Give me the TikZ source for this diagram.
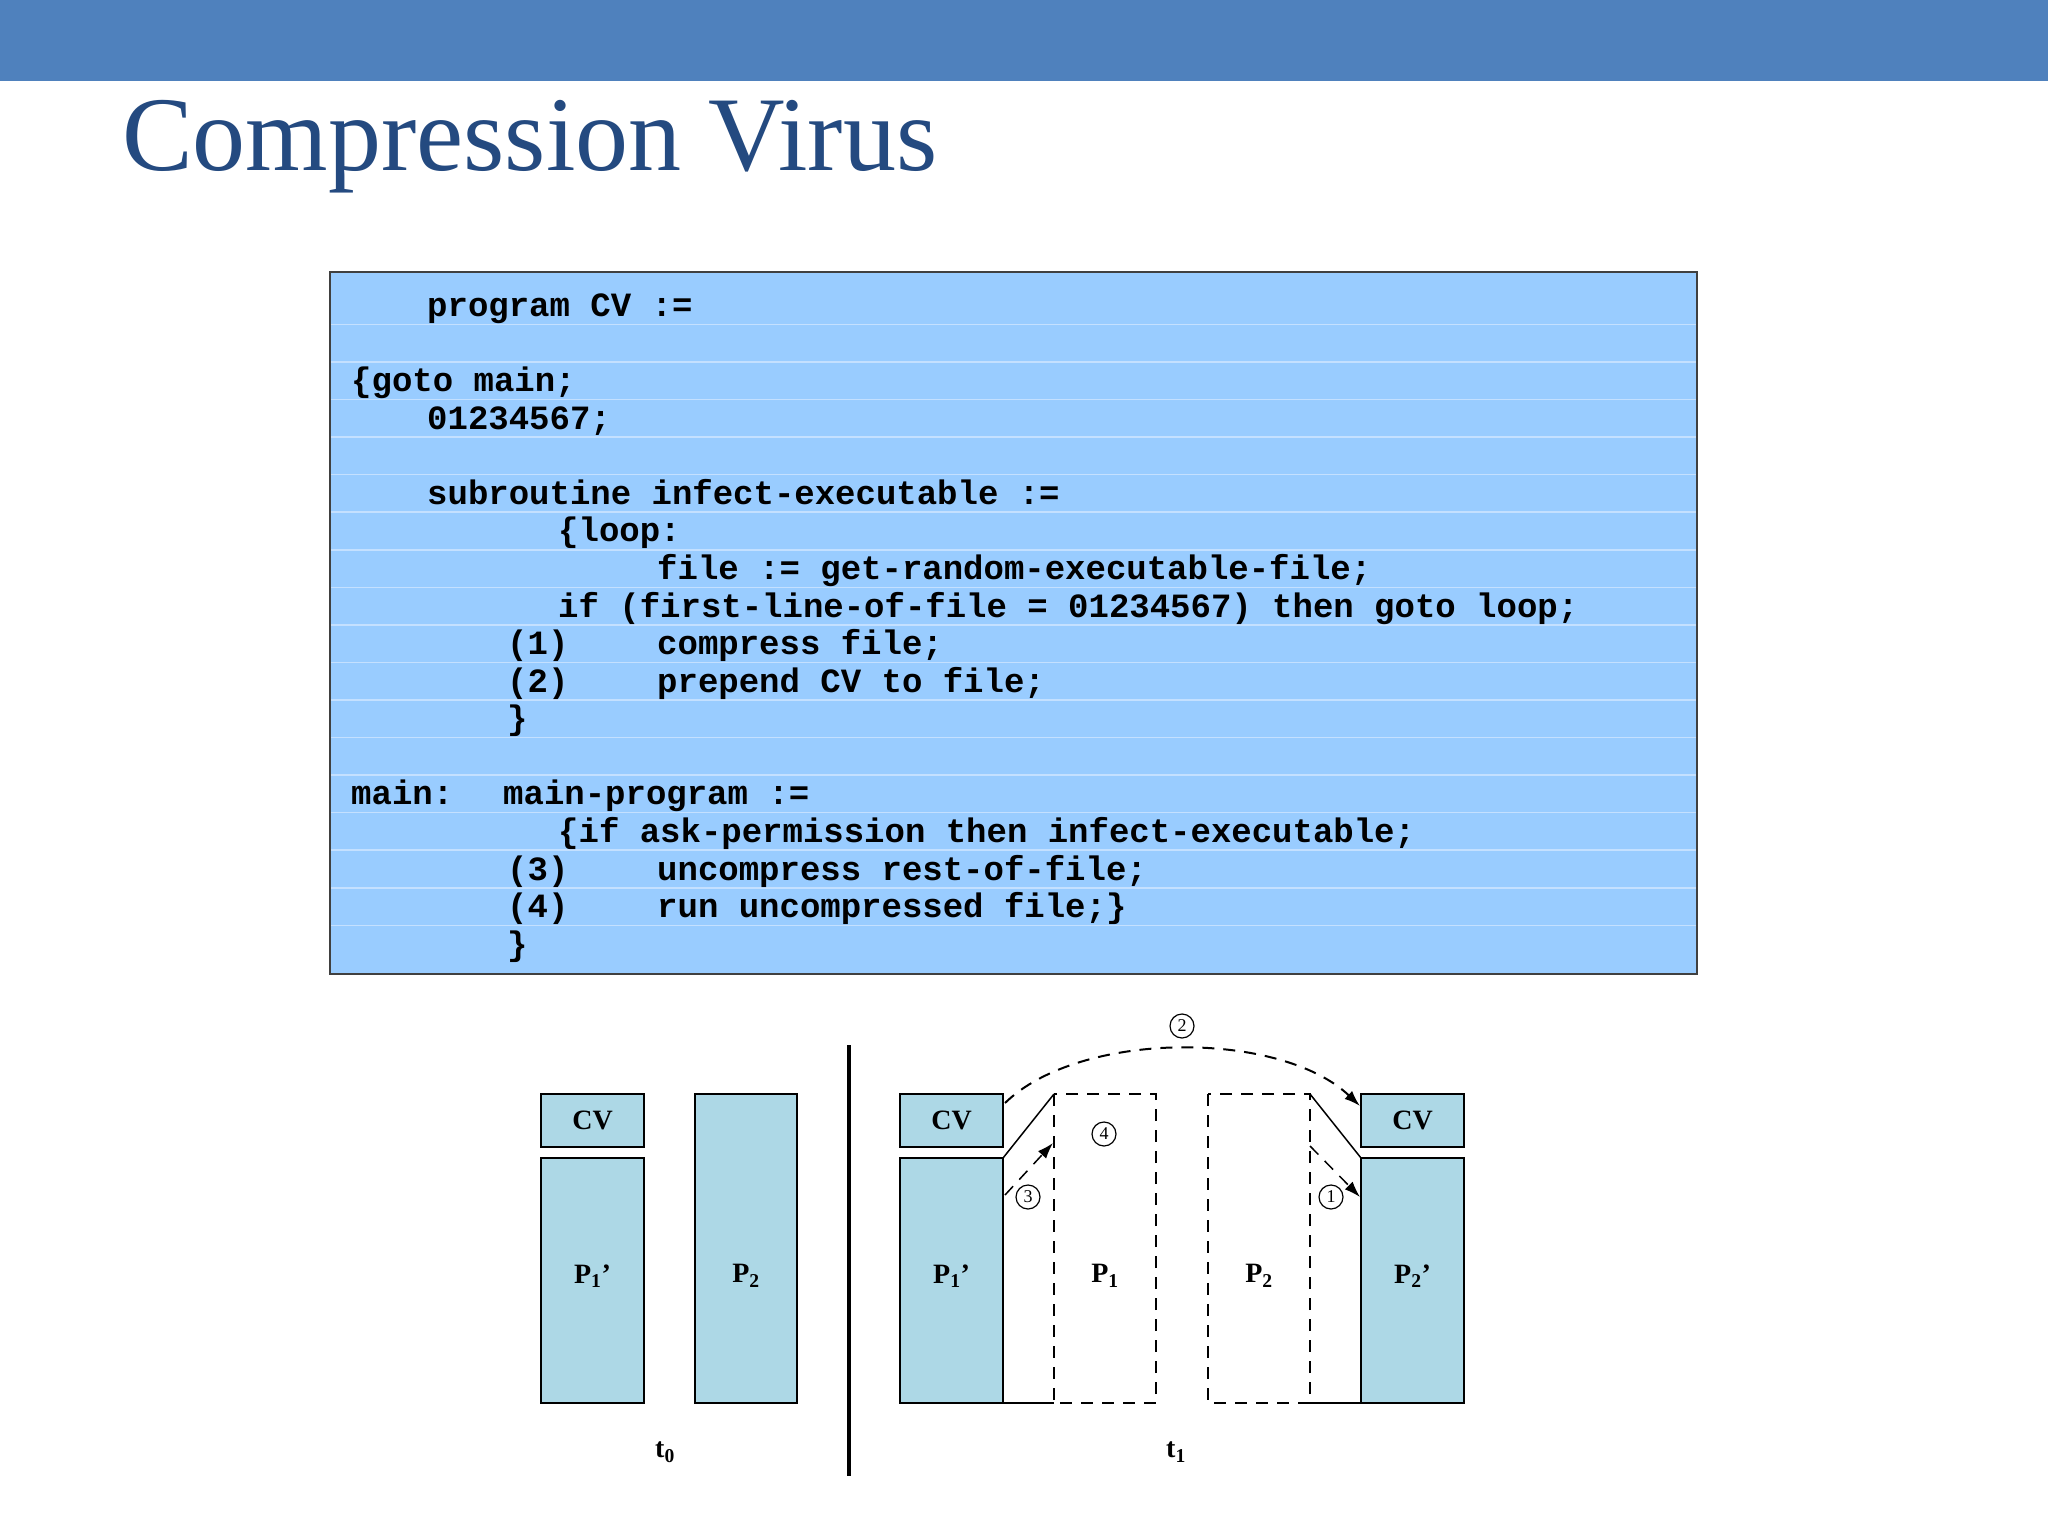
\documentclass[tikz,border=0pt]{standalone}
\usepackage{fontspec}
\setmainfont{Liberation Serif}
\setmonofont{Liberation Mono}
\usetikzlibrary{arrows.meta}
\definecolor{topbar}{HTML}{4F81BD}
\definecolor{titleblue}{HTML}{244A80}
\definecolor{codebg}{HTML}{99CCFF}
\definecolor{codesep}{HTML}{C4E0FF}
\definecolor{boxfill}{HTML}{ADD8E6}
\begin{document}
\begin{tikzpicture}[x=1pt,y=-1pt,
  code/.style={anchor=base west,inner sep=0pt,font=\fontsize{34}{34}\ttfamily\bfseries},
  blk/.style={draw=black,line width=2.5pt,fill=boxfill},
  dbox/.style={draw=black,line width=2.5pt,dash pattern=on 12pt off 9pt},
  lab/.style={font=\fontsize{28}{28}\selectfont\bfseries},
  circ/.style={draw=black,circle,line width=1.2pt,minimum size=24pt,inner sep=0pt,font=\fontsize{18}{18}\selectfont},
  darr/.style={line width=2pt,dash pattern=on 12pt off 9pt,-{Latex[length=16pt,width=11pt]}}]
\useasboundingbox (0,0) rectangle (2048,1536);
\fill[white] (0,0) rectangle (2048,1536);
\fill[topbar] (0,0) rectangle (2048,81);
\node[anchor=base west,inner sep=0pt,text=titleblue,font=\fontsize{106}{106}\selectfont] (title) at (122,170) {Compression Virus};
% code box
\fill[codebg] (330,272) rectangle (1697,974);
\foreach \k in {0,...,16} {
  \draw[codesep,line width=1.5pt] (331,{324.4+\k*37.56}) -- (1696,{324.4+\k*37.56});
}
\draw[black!75,line width=2.5pt] (330,272) rectangle (1697,974);
\def\ry#1{\fpeval{305.6+#1*37.56+11}}
\node[code] (c0) at (427,\ry{0}) {program CV :=};
\node[code] (c2) at (351,\ry{2}) {\{goto main;};
\node[code] (c3) at (427,\ry{3}) {01234567;};
\node[code] (c5) at (427,\ry{5}) {subroutine infect-executable :=};
\node[code] (c6) at (558,\ry{6}) {\{loop:};
\node[code] (c7) at (657,\ry{7}) {file := get-random-executable-file;};
\node[code] (c8) at (558,\ry{8}) {if (first-line-of-file = 01234567) then goto loop;};
\node[code] (c9a) at (507,\ry{9}) {(1)};
\node[code] (c9b) at (657,\ry{9}) {compress file;};
\node[code] (c10a) at (507,\ry{10}) {(2)};
\node[code] (c10b) at (657,\ry{10}) {prepend CV to file;};
\node[code] (c11) at (507,\ry{11}) {\}};
\node[code] (c13a) at (351,\ry{13}) {main:};
\node[code] (c13b) at (503,\ry{13}) {main-program :=};
\node[code] (c14) at (558,\ry{14}) {\{if ask-permission then infect-executable;};
\node[code] (c15a) at (507,\ry{15}) {(3)};
\node[code] (c15b) at (657,\ry{15}) {uncompress rest-of-file;};
\node[code] (c16a) at (507,\ry{16}) {(4)};
\node[code] (c16b) at (657,\ry{16}) {run uncompressed file;\}};
\node[code] (c17) at (507,\ry{17}) {\}};
% t0
\draw[blk] (541,1094) rectangle (644,1147);
\node[lab] (cv0) at (592.5,1120.5) {CV};
\draw[blk] (541,1158) rectangle (644,1403);
\node[lab] (p1p0) at (592.5,1276) {P$_\mathbf{1}$'};
\draw[blk] (695,1094) rectangle (797,1403);
\node[lab] (p20) at (746,1276) {P$_\mathbf{2}$};
\node[lab] (t0) at (665,1452) {t$_\mathbf{0}$};
\draw[line width=4pt] (849,1045) -- (849,1476);
% t1
\draw[blk] (900,1094) rectangle (1003,1147);
\node[lab] (cv1) at (951.5,1120.5) {CV};
\draw[blk] (900,1158) rectangle (1003,1403);
\node[lab] (p1p1) at (951.5,1276) {P$_\mathbf{1}$'};
\draw[dbox] (1054,1094) rectangle (1156,1403);
\node[lab] (p11) at (1105,1276) {P$_\mathbf{1}$};
\draw[dbox] (1208,1094) rectangle (1310,1403);
\node[lab] (p21) at (1259,1276) {P$_\mathbf{2}$};
\draw[blk] (1361,1094) rectangle (1464,1147);
\node[lab] (cv2) at (1412.5,1120.5) {CV};
\draw[blk] (1361,1158) rectangle (1464,1403);
\node[lab] (p2p1) at (1412.5,1276) {P$_\mathbf{2}$'};
\node[lab] (t1) at (1176,1452) {t$_\mathbf{1}$};
\draw[line width=1.5pt] (1003,1158) -- (1054,1094);
\draw[line width=1.5pt] (1003,1403) -- (1054,1403);
\draw[line width=1.5pt] (1310,1094) -- (1361,1158);
\draw[line width=1.5pt] (1310,1403) -- (1361,1403);
% arrows
\coordinate (a2s) at (1005,1103);
\coordinate (a2e) at (1360,1106);
\draw[darr] (a2s) .. controls (1080,1030) and (1280,1030) .. (a2e);
\node[circ] (n2) at (1182,1026) {2};
\coordinate (a3s) at (1005,1195);
\coordinate (a3e) at (1053,1143);
\draw[darr,line width=1.5pt] (a3s) -- (a3e);
\node[circ] (n3) at (1028,1197) {3};
\coordinate (a1s) at (1310,1146);
\coordinate (a1e) at (1360,1197);
\draw[darr,line width=1.5pt] (a1s) -- (a1e);
\node[circ] (n1) at (1331,1197) {1};
\node[circ] (n4) at (1104,1134) {4};
\end{tikzpicture}
\end{document}
